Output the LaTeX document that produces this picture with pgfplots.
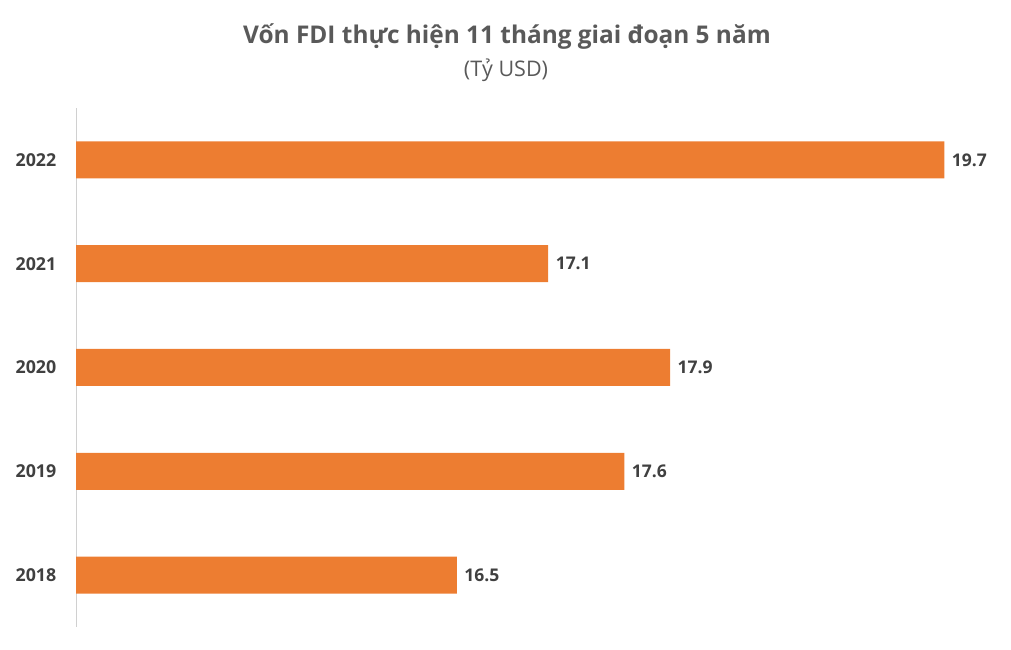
\documentclass[border=0pt]{standalone}
\usepackage{pgfplots}
\pgfplotsset{compat=1.18}
\usepackage{fontspec}
\setmainfont{Open Sans}
\definecolor{barorange}{HTML}{ED7D31}
\definecolor{titlegray}{HTML}{595959}
\definecolor{labgray}{HTML}{404040}
\definecolor{axgray}{HTML}{D0D0D0}
\begin{document}
\begin{tikzpicture}[x=1bp,y=1bp]
\useasboundingbox (0,0) rectangle (1011,650);
\node[font=\fontsize{24.4bp}{28bp}\selectfont\bfseries, text=titlegray, anchor=base] at (507,606) {Vốn FDI thực hiện 11 tháng giai đoạn 5 năm};
\node[font=\fontsize{21.5bp}{25bp}\selectfont, text=titlegray, anchor=base] at (506,573) {(Tỷ USD)};
\begin{axis}[
  at={(76bp,23bp)}, anchor=south west,
  scale only axis,
  width=914bp, height=519bp,
  xbar, bar width=37bp,
  xmin=14, xmax=20,
  ymin=-0.5, ymax=4.5,
  ytick={0,1,2,3,4},
  yticklabels={2018,2019,2020,2021,2022},
  axis x line=none,
  axis y line*=left,
  y axis line style={axgray, line width=1bp, -},
  y tick style={draw=none},
  yticklabel style={font=\fontsize{17.8bp}{20bp}\selectfont\bfseries, text=labgray, xshift=-12bp},
  nodes near coords,
  nodes near coords style={font=\fontsize{17.5bp}{20bp}\selectfont\bfseries, text=labgray, anchor=west, xshift=4bp},
  point meta=explicit symbolic,
  clip=false,
]
\addplot[fill=barorange, draw=none] coordinates {
  (16.5,0) [16.5]
  (17.6,1) [17.6]
  (17.9,2) [17.9]
  (17.1,3) [17.1]
  (19.7,4) [19.7]
};
\end{axis}
\end{tikzpicture}
\end{document}
